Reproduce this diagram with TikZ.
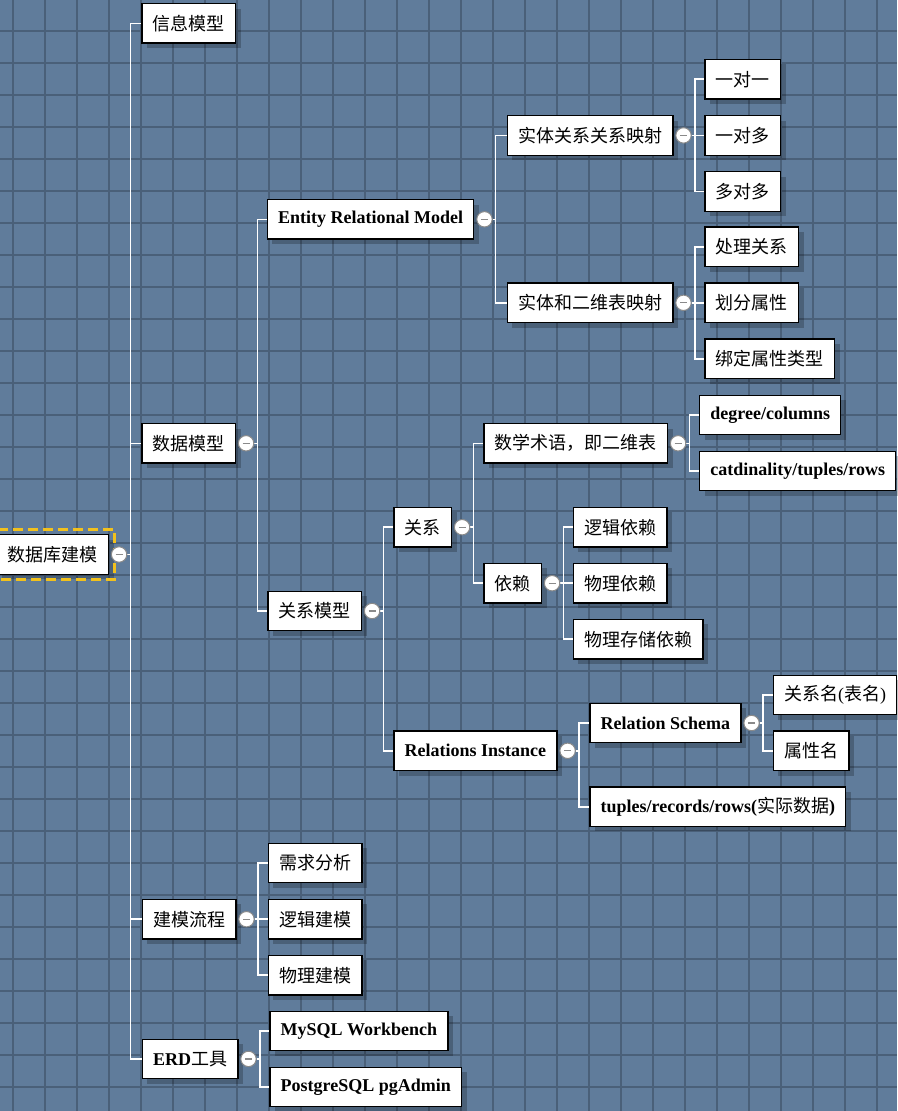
\documentclass[tikz,border=0pt]{standalone}
\usepackage{fontspec}
\setmainfont{Liberation Serif}
\newfontfamily\cjk{Noto Sans CJK SC}
\usetikzlibrary{shadows}
\pgfdeclarelayer{bg}
\pgfsetlayers{bg,main}
\definecolor{bgblue}{HTML}{607C9B}
\definecolor{gridc}{HTML}{4A6079}
\definecolor{dashy}{HTML}{F2C11C}
\definecolor{togc}{HTML}{8A8A8A}
\newcommand\zh[1]{{\mdseries\cjk #1}}
\newcommand\linkto[2]{\draw[conn] (c#1.east) -- ++(3,0) |- (#2.west);}
\begin{document}
\begin{tikzpicture}[x=1pt,y=-1pt,
  box/.style={draw=black, line width=1.2pt, fill=white, anchor=west,
    minimum height=39.5pt, inner xsep=10.8pt, inner ysep=0pt,
    drop shadow={shadow xshift=5pt, shadow yshift=-5pt, opacity=0.22, fill=black}},
  zhbox/.style={box, font=\fontsize{18}{20}\selectfont\cjk},
  enbox/.style={box, font=\fontsize{18}{20}\selectfont\bfseries},
  tog/.style={circle, draw=togc, line width=1pt, fill=white, minimum size=15.4pt, inner sep=0pt,
    path picture={\draw[togc, line width=1.3pt] ([xshift=-3.5pt]path picture bounding box.center) -- ([xshift=3.5pt]path picture bounding box.center);}},
  conn/.style={draw=white, line width=1.6pt}]
\useasboundingbox (0,0) rectangle (897,1111);

% level 0
\node[zhbox] (root) at (-3.7,554.5) {数据库建模};
\draw[dashy, line width=3pt, dash pattern=on 10pt off 5pt]
  ([shift={(-5pt,5pt)}]root.north west) rectangle ([shift={(5pt,-5pt)}]root.south east);

% level 1
\node[zhbox] (info) at (141.3,23.3) {信息模型};
\node[zhbox] (data) at (141.3,443.3) {数据模型};
\node[zhbox] (flow) at (141.7,919.2) {建模流程};
\node[enbox] (erd)  at (141.7,1058.9) {ERD\zh{工具}};

% data model
\node[enbox] (erm)  at (266.7,219.3) {Entity Relational Model};
\node[zhbox] (relm) at (267.3,611) {关系模型};

\node[zhbox] (map1) at (506.7,135.4) {实体关系关系映射};
\node[zhbox] (map2) at (506.7,302.8) {实体和二维表映射};
\node[zhbox] (oo) at (704.3,79.2) {一对一};
\node[zhbox] (om) at (704.3,135.4) {一对多};
\node[zhbox] (mm) at (704.3,191.4) {多对多};
\node[zhbox] (proc) at (704.3,246.8) {处理关系};
\node[zhbox] (divi) at (704.3,302.8) {划分属性};
\node[zhbox] (bind) at (704.3,358.8) {绑定属性类型};

\node[zhbox] (rel) at (393.3,527.2) {关系};
\node[enbox] (ri)  at (393.3,750.8) {Relations Instance};
\node[zhbox] (math) at (483.3,443.3) {数学术语，即二维表};
\node[zhbox] (dep)  at (483.3,583.2) {依赖};
\node[enbox] (deg)  at (699,415) {degree/columns};
\node[enbox] (card) at (699,471) {catdinality/tuples/rows};
\node[zhbox] (ldep) at (572.7,527.2) {逻辑依赖};
\node[zhbox] (pdep) at (572.7,583.2) {物理依赖};
\node[zhbox] (sdep) at (572.7,639.2) {物理存储依赖};
\node[enbox] (rs)  at (589.3,723) {Relation Schema};
\node[enbox] (tup) at (589.3,806.7) {tuples/records/rows(\zh{实际数据})};
\node[zhbox] (rname) at (772.7,695) {关系名{\rmfamily(}表名{\rmfamily)}};
\node[zhbox] (aname) at (772.7,750.8) {属性名};

% flow
\node[zhbox] (req) at (267.7,863) {需求分析};
\node[zhbox] (lmod) at (267.7,919.2) {逻辑建模};
\node[zhbox] (pmod) at (267.7,975.2) {物理建模};

% erd tools
\node[enbox] (mysql) at (269.3,1030.9) {MySQL Workbench};
\node[enbox] (pg) at (269.3,1086.9) {PostgreSQL pgAdmin};

% toggles
\foreach \n in {root,data,flow,erd,erm,relm,map1,map2,rel,ri,math,dep,rs}
  \node[tog] (c\n) at ([xshift=10pt]\n.east) {};

\begin{pgfonlayer}{bg}
\fill[bgblue] (0,0) rectangle (897,1111);
\foreach \k in {0,...,27} \draw[gridc, line width=1.8pt] (13+32*\k,0) -- (13+32*\k,1111);
\foreach \k in {0,...,33} \draw[gridc, line width=1.8pt] (0,31+32*\k) -- (897,31+32*\k);
\linkto{root}{info}
\linkto{root}{data}
\linkto{root}{flow}
\linkto{root}{erd}
\linkto{data}{erm}
\linkto{data}{relm}
\linkto{erm}{map1}
\linkto{erm}{map2}
\linkto{map1}{oo}
\linkto{map1}{om}
\linkto{map1}{mm}
\linkto{map2}{proc}
\linkto{map2}{divi}
\linkto{map2}{bind}
\linkto{relm}{rel}
\linkto{relm}{ri}
\linkto{rel}{math}
\linkto{rel}{dep}
\linkto{math}{deg}
\linkto{math}{card}
\linkto{dep}{ldep}
\linkto{dep}{pdep}
\linkto{dep}{sdep}
\linkto{ri}{rs}
\linkto{ri}{tup}
\linkto{rs}{rname}
\linkto{rs}{aname}
\linkto{flow}{req}
\linkto{flow}{lmod}
\linkto{flow}{pmod}
\linkto{erd}{mysql}
\linkto{erd}{pg}
\end{pgfonlayer}
\end{tikzpicture}
\end{document}
